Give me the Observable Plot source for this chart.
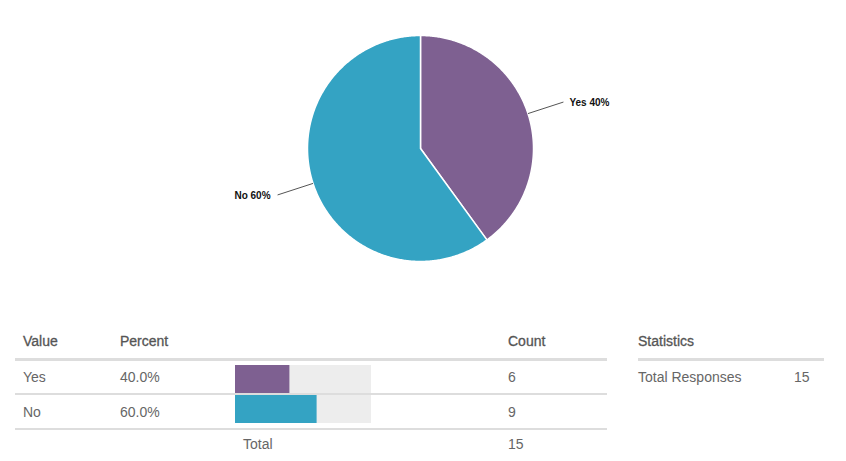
<!DOCTYPE html>
<html>
<head>
<meta charset="utf-8">
<script src="https://cdn.jsdelivr.net/npm/d3@7"></script>
<script src="https://cdn.jsdelivr.net/npm/@observablehq/plot@0.6"></script>
<style>
  html, body { margin: 0; padding: 0; background: #fff; }
  #wrap { position: relative; width: 846px; height: 461px; overflow: hidden; font-family: "Liberation Sans", Arial, Helvetica, sans-serif; }
  .t { position: absolute; height: 18px; line-height: 18px; font-size: 14px; color: #666; white-space: nowrap; }
  .h { color: #555; -webkit-text-stroke: 0.3px #555; }
  .rule { position: absolute; background: #ddd; }
  #pie { position: absolute; left: 0; top: 0; }
  #bars { position: absolute; left: 235px; top: 360px; }
</style>
</head>
<body>
<div id="wrap">
  <div id="pie"></div>
  <div id="bars"></div>
</div>
<script>
// ---- data ----
const categories = ["Yes", "No"];
const counts = [6, 9];
const percents = [40.0, 60.0];
const colors = ["#7e6091", "#34a3c3"];
const headers = ["Value", "Percent", "Count"];
const totalLabel = "Total";
const statsTitle = "Statistics";
const statsLabel = "Total Responses";

const total = d3.sum(counts);
const wrap = document.getElementById("wrap");

// ---- pie geometry from data ----
const pieGen = d3.pie().sort(null).value(d => d.count);
const slices = pieGen(categories.map((c, i) => ({key: c, count: counts[i], pct: percents[i]})));
const pts = [];
for (const s of slices) {
  const n = Math.max(2, Math.ceil((s.endAngle - s.startAngle) / 0.01));
  pts.push({key: s.data.key, x: 0, y: 0});
  for (let k = 0; k <= n; k++) {
    const a = s.startAngle + (s.endAngle - s.startAngle) * k / n;
    pts.push({key: s.data.key, x: Math.sin(a), y: Math.cos(a)});
  }
  pts.push({key: s.data.key, x: 0, y: 0});
}
const leaders = slices.map(s => {
  const m = (s.startAngle + s.endAngle) / 2;
  return {
    key: s.data.key,
    label: `${s.data.key} ${Math.round(s.data.pct)}%`,
    x1: Math.sin(m), y1: Math.cos(m),
    x2: Math.sin(m) * 1.33, y2: Math.cos(m) * 1.33,
    right: Math.sin(m) >= 0
  };
});

// scales: unit circle -> pixels (center 420,148; radius 113)
const R = 113, W = 846, H = 300, cx = 420, cy = 148;
const pie = Plot.plot({
  width: W, height: H,
  margin: 0,
  x: {domain: [-cx / R, (W - cx) / R], axis: null},
  y: {domain: [-(H - cy) / R, cy / R], axis: null},
  color: {domain: categories, range: colors},
  style: {background: "transparent"},
  marks: [
    Plot.line(pts, {x: "x", y: "y", z: "key", fill: "key", stroke: "#fff", strokeWidth: 1.5, curve: "linear"}),
    Plot.link(leaders, {x1: "x1", y1: "y1", x2: "x2", y2: "y2", stroke: "#555", strokeWidth: 1}),
    Plot.text(leaders.filter(d => d.right), {x: "x2", y: "y2", text: "label", textAnchor: "start", dx: 6, dy: 1, fontSize: 10, fontWeight: "bold", fill: "#111", fontFamily: "Liberation Sans, Arial, sans-serif"}),
    Plot.text(leaders.filter(d => !d.right), {x: "x2", y: "y2", text: "label", textAnchor: "end", dx: -7, dy: 1, fontSize: 10, fontWeight: "bold", fill: "#111", fontFamily: "Liberation Sans, Arial, sans-serif"})
  ]
});
document.getElementById("pie").appendChild(pie);

// ---- table bars ----
const rows = categories.map((c, i) => ({key: c, pct: percents[i], full: 100}));
const bars = Plot.plot({
  width: 136, height: 67,
  margin: 0,
  x: {domain: [0, 100], range: [0, 136], axis: null},
  y: {domain: categories, range: [3, 66], padding: 0.06, align: 0.5, axis: null},
  color: {domain: categories, range: colors},
  style: {background: "transparent"},
  marks: [
    Plot.barX(rows, {x: "full", y: "key", fill: "#ededed"}),
    Plot.barX(rows, {x: "pct", y: "key", fill: "key"})
  ]
});
document.getElementById("bars").appendChild(bars);

// ---- table text ----
function txt(s, x, yc, cls) {
  const d = document.createElement("div");
  d.className = "t" + (cls ? " " + cls : "");
  d.textContent = s;
  d.style.left = x + "px";
  d.style.top = (yc - 9) + "px";
  wrap.appendChild(d);
}
function rule(x1, x2, y, h) {
  const d = document.createElement("div");
  d.className = "rule";
  d.style.left = x1 + "px"; d.style.width = (x2 - x1) + "px";
  d.style.top = y + "px"; d.style.height = h + "px";
  wrap.appendChild(d);
}
txt(headers[0], 23, 341, "h");
txt(headers[1], 120, 341, "h");
txt(headers[2], 508, 341, "h");
rule(15, 607, 358, 3);
const rowY = [377, 412];
categories.forEach((c, i) => {
  txt(c, 23, rowY[i]);
  txt(percents[i].toFixed(1) + "%", 120, rowY[i]);
  txt(String(counts[i]), 508, rowY[i]);
});
rule(15, 607, 393, 1.5);
rule(15, 607, 428, 1.5);
txt(totalLabel, 243, 444);
txt(String(total), 508, 444);

txt(statsTitle, 638, 341, "h");
rule(638, 824, 358, 3);
txt(statsLabel, 638, 377);
txt(String(total), 794, 377);
</script>
</body>
</html>
